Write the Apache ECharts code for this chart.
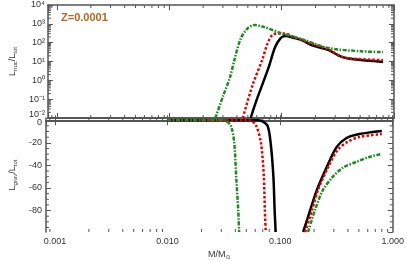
<!DOCTYPE html>
<html><head><meta charset="utf-8">
<script src="https://cdn.jsdelivr.net/npm/echarts@6/dist/echarts.min.js"></script>
<style>html,body{margin:0;padding:0;background:#fff}#c{width:407px;height:262px}</style>
</head><body><div id="c"></div>
<script>
// ---- data (mass in M/Msun) ----
const xTickLabels = ['0.001', '0.010', '0.100', '1.000'];
const yTopTickLabels = ['10⁻²', '10⁻¹', '10⁰', '10¹', '10²', '10³', '10⁴'];
const yBottomTicks = [-80, -60, -40, -20, 0];

// top panel: L_nuc / L_tot
const nucBlack = [[0.053,0.01],[0.0585,0.062],[0.0675,0.63],[0.0771,5.5],[0.0871,55],[0.0975,170],[0.107,224],[0.131,175],[0.151,138],[0.184,74],[0.260,41],[0.338,18],[0.438,13],[0.80,9.5]];
const nucRed = [[0.0451,0.01],[0.0551,0.56],[0.0675,13.4],[0.0745,84],[0.0824,254],[0.0912,305],[0.107,300],[0.131,190],[0.184,88],[0.260,44],[0.338,18],[0.438,14],[0.80,11.8]];
const nucGreen = [[0.0257,0.01],[0.0301,0.145],[0.0347,1.48],[0.0383,15],[0.0433,170],[0.0498,575],[0.0574,870],[0.0675,720],[0.101,310],[0.151,155],[0.260,52],[0.505,35],[0.80,31.6]];

// bottom panel: L_grav / L_tot
const gravBlack = [[0.01,0],[0.064,0],[0.0675,-0.3],[0.0771,-4.7],[0.0824,-20.6],[0.0871,-50.2],[0.0893,-79.7],[0.0912,-99],[0.12,null],[0.160,-99],[0.185,-79.5],[0.212,-61.7],[0.260,-41.3],[0.318,-23.6],[0.389,-15.7],[0.505,-12.2],[0.80,-9.5]];
const gravRed = [[0.01,0],[0.052,0],[0.0551,-0.3],[0.0609,-4.2],[0.0675,-20],[0.0716,-50],[0.0731,-79.5],[0.0745,-99],[0.12,null],[0.1667,-99],[0.192,-79.5],[0.217,-61.7],[0.265,-42.2],[0.324,-26.3],[0.397,-19.2],[0.505,-14.8],[0.80,-12.2]];
const gravGreen = [[0.01,0],[0.031,0],[0.0333,-0.5],[0.0368,-5.9],[0.0391,-20.1],[0.0407,-50.2],[0.0424,-79.5],[0.0432,-99],[0.12,null],[0.177,-99],[0.204,-79.5],[0.240,-61.7],[0.293,-50.2],[0.359,-42.2],[0.475,-36.9],[0.618,-32.5],[0.80,-29.8]];

// ---- build ----
const FONT = 'Liberation Sans';
const AX = '#555';
const XMIN = 0.00083, XMAX = 1.0;

const supMap = {'-2':'10⁻²','-1':'10⁻¹','0':'10⁰','1':'10¹','2':'10²','3':'10³','4':'10⁴'};
function xFmt(v){ const e = Math.round(Math.log10(v)); const i = e + 3; return (i>=0 && i<xTickLabels.length) ? xTickLabels[i] : ''; }
function yTopFmt(v){ const e = Math.round(Math.log10(v)); const s = yTopTickLabels[e+2] || ''; return e === -2 ? '{lo|' + s + '}' : s; }
function yBotFmt(v){ if (yBottomTicks.indexOf(v) < 0) return ''; return v === 0 ? '{hi|0}' : String(v); }

// minor ticks data: [x, y, kind]  kind 0 = x-minor, 1 = y-minor
const minorTop = [], minorBot = [];
for (let e = -4; e <= -1; e++) for (let m = 2; m <= 9; m++) {
  const v = m * Math.pow(10, e);
  if (v > XMIN && v < XMAX) { minorTop.push([v, 1, 0]); minorBot.push([v, -50, 0]); }
}
for (let e = -2; e <= 3; e++) for (let m = 2; m <= 9; m++) minorTop.push([0.01, m * Math.pow(10, e), 1]);
for (let v = -95; v < 0; v += 5) if (v % 20 !== 0) minorBot.push([0.01, v, 1]);

function renderMinor(params, api){
  const cs = params.coordSys;
  const p = api.coord([api.value(0), api.value(1)]);
  const L = 3, st = {stroke: AX, lineWidth: 1};
  if (api.value(2) === 0) {
    return {type:'group', children:[
      {type:'line', shape:{x1:p[0], y1:cs.y, x2:p[0], y2:cs.y+L}, style:st},
      {type:'line', shape:{x1:p[0], y1:cs.y+cs.height, x2:p[0], y2:cs.y+cs.height-L}, style:st}
    ]};
  }
  return {type:'group', children:[
    {type:'line', shape:{x1:cs.x, y1:p[1], x2:cs.x+L, y2:p[1]}, style:st},
    {type:'line', shape:{x1:cs.x+cs.width, y1:p[1], x2:cs.x+cs.width-L, y2:p[1]}, style:st}
  ]};
}

function xAx(grid, pos, showLabel, lw){
  return {type:'log', logBase:10, gridIndex:grid, position:pos, min:XMIN, max:XMAX,
    axisLine:{show:true, lineStyle:{color:AX, width:lw}},
    axisTick:{show:true, inside:true, length:5, lineStyle:{color:AX, width:1}},
    axisLabel:{show:showLabel, formatter:xFmt, fontFamily:FONT, fontSize:9, color:'#333', margin:5, showMinLabel:false},
    splitLine:{show:false},
    name: (grid===1 && pos==='bottom') ? 'M/M{s|⊙}' : '',
    nameLocation:'middle', nameGap:17,
    nameTextStyle:{fontFamily:FONT, fontSize:9, color:'#333', rich:{s:{fontSize:6, fontFamily:'DejaVu Sans', color:'#333', padding:[5,0,0,0]}}}
  };
}

const option = {
  animation:false,
  backgroundColor:'#fff',
  title:{text:'Z=0.0001', left:56, top:7, textStyle:{fontFamily:FONT, fontSize:11, fontWeight:'bold', color:'#b5651d'}},
  grid:[
    {left:42, right:13, top:5, height:113},
    {left:42, right:13, top:118, height:114}
  ],
  xAxis:[xAx(0,'bottom',false,2), xAx(0,'top',false,1.5), xAx(1,'bottom',true,1.5), xAx(1,'top',false,2)],
  yAxis:[
    {type:'log', logBase:10, gridIndex:0, position:'left', min:0.01, max:10000,
     axisLine:{show:true, lineStyle:{color:AX, width:1.5}},
     axisTick:{show:true, inside:true, length:5, lineStyle:{color:AX}},
     axisLabel:{formatter:yTopFmt, fontFamily:FONT, fontSize:9, color:'#333', margin:3, rich:{lo:{fontFamily:FONT, fontSize:9, color:'#333', padding:[0,0,7,0]}}},
     splitLine:{show:false},
     name:'L{s|nuc}/L{s|tot}', nameLocation:'middle', nameGap:27, nameRotate:90,
     nameTextStyle:{fontFamily:FONT, fontSize:9, color:'#333', rich:{s:{fontSize:6, fontFamily:FONT, color:'#333', padding:[5,0,0,0]}}}},
    {type:'log', logBase:10, gridIndex:0, position:'right', min:0.01, max:10000,
     axisLine:{show:true, lineStyle:{color:AX, width:1.5}},
     axisTick:{show:true, inside:true, length:5, lineStyle:{color:AX}},
     axisLabel:{show:false}, splitLine:{show:false}},
    {type:'value', gridIndex:1, position:'left', min:-99, max:2, splitNumber:5,
     axisLine:{show:true, lineStyle:{color:AX, width:1.5}},
     axisTick:{show:true, inside:true, length:5, lineStyle:{color:AX}},
     axisLabel:{formatter:yBotFmt, fontFamily:FONT, fontSize:9, color:'#333', margin:4, showMinLabel:false, showMaxLabel:false, rich:{hi:{fontFamily:FONT, fontSize:9, color:'#333', padding:[4,0,0,0]}}},
     splitLine:{show:false},
     name:'L{s|grav}/L{s|tot}', nameLocation:'middle', nameGap:27, nameRotate:90,
     nameTextStyle:{fontFamily:FONT, fontSize:9, color:'#333', rich:{s:{fontSize:6, fontFamily:FONT, color:'#333', padding:[5,0,0,0]}}}},
    {type:'value', gridIndex:1, position:'right', min:-99, max:2, splitNumber:5,
     axisLine:{show:true, lineStyle:{color:AX, width:1.5}},
     axisTick:{show:true, inside:true, length:5, lineStyle:{color:AX}},
     axisLabel:{show:false}, splitLine:{show:false}}
  ],
  series:[
    {type:'custom', xAxisIndex:0, yAxisIndex:0, data:minorTop, renderItem:renderMinor, silent:true, clip:false, z:1},
    {type:'custom', xAxisIndex:2, yAxisIndex:2, data:minorBot, renderItem:renderMinor, silent:true, clip:false, z:1},
    {type:'line', xAxisIndex:0, yAxisIndex:0, data:nucBlack, showSymbol:false, smooth:0.3, lineStyle:{color:'#000', width:2.5}, z:3},
    {type:'line', xAxisIndex:0, yAxisIndex:0, data:nucRed, showSymbol:false, smooth:0.3, lineStyle:{color:'#e00000', width:2.5, type:[2.5,2]}, z:4},
    {type:'line', xAxisIndex:0, yAxisIndex:0, data:nucGreen, showSymbol:false, smooth:0.3, lineStyle:{color:'#1f8a1f', width:2.5, type:[4,1.5,1.5,1.5]}, z:5},
    {type:'line', xAxisIndex:2, yAxisIndex:2, data:gravBlack, showSymbol:false, smooth:0.3, connectNulls:false, lineStyle:{color:'#000', width:2.5}, z:3},
    {type:'line', xAxisIndex:2, yAxisIndex:2, data:gravRed, showSymbol:false, smooth:0.3, connectNulls:false, lineStyle:{color:'#e00000', width:2.5, type:[2.5,2]}, z:4},
    {type:'line', xAxisIndex:2, yAxisIndex:2, data:gravGreen, showSymbol:false, smooth:0.3, connectNulls:false, lineStyle:{color:'#1f8a1f', width:2.5, type:[4,1.5,1.5,1.5]}, z:5}
  ]
};
const chart = echarts.init(document.getElementById('c'), null, {renderer:'canvas'});
chart.setOption(option);
</script></body></html>
